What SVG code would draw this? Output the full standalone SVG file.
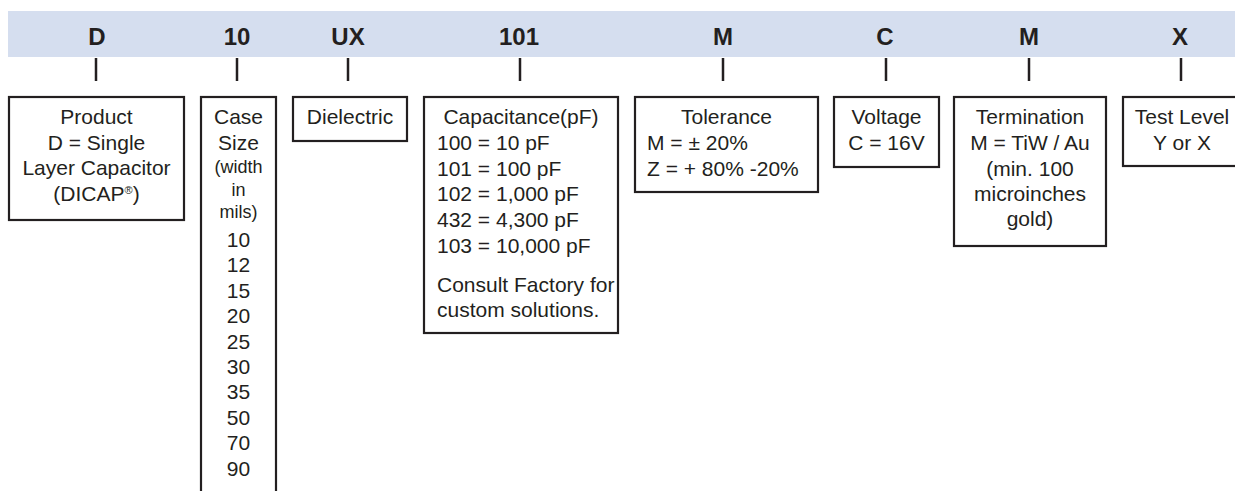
<svg xmlns="http://www.w3.org/2000/svg" width="1235" height="491" viewBox="0 0 1235 491">
<style>
text{font-family:"Liberation Sans",Arial,sans-serif;fill:#231f20}
.h{font-size:24px;font-weight:bold;text-anchor:middle}
.t{font-size:21px}
.c{text-anchor:middle}
.s{font-size:18px}
.box{fill:#fff;stroke:#231f20;stroke-width:2.2}
.tick{stroke:#231f20;stroke-width:2.5}
</style>
<rect x="8" y="11" width="1227" height="46" fill="#d5deef"/>
<g id="header">
<text class="h" x="97" y="45">D</text>
<text class="h" x="237" y="45">10</text>
<text class="h" x="348" y="45">UX</text>
<text class="h" x="519" y="45">101</text>
<text class="h" x="723" y="45">M</text>
<text class="h" x="885" y="45">C</text>
<text class="h" x="1029" y="45">M</text>
<text class="h" x="1180" y="45">X</text>
</g>
<g id="connectors">
<line class="tick" x1="96" y1="58" x2="96" y2="81"/>
<line class="tick" x1="237" y1="58" x2="237" y2="81"/>
<line class="tick" x1="348" y1="58" x2="348" y2="81"/>
<line class="tick" x1="520" y1="58" x2="520" y2="81"/>
<line class="tick" x1="723" y1="58" x2="723" y2="81"/>
<line class="tick" x1="886" y1="58" x2="886" y2="81"/>
<line class="tick" x1="1029" y1="58" x2="1029" y2="81"/>
<line class="tick" x1="1181" y1="58" x2="1181" y2="81"/>
</g>
<g id="product">
<rect class="box" x="9" y="97" width="175" height="123"/>
<text class="t c" x="96.5" y="124">Product</text>
<text class="t c" x="96.5" y="149.5">D = Single</text>
<text class="t c" x="96.5" y="175">Layer Capacitor</text>
<text class="t c" x="96.5" y="200.5">(DICAP<tspan font-size="11" dy="-7">®</tspan><tspan dy="7">)</tspan></text>
</g>
<g id="casesize">
<rect class="box" x="201" y="97" width="75" height="400"/>
<text class="t c" x="238.5" y="124">Case</text>
<text class="t c" x="238.5" y="150">Size</text>
<text class="s c" x="238.5" y="173">(width</text>
<text class="s c" x="238.5" y="196">in</text>
<text class="s c" x="238.5" y="218">mils)</text>
<text class="t c" x="238.5" y="247">10</text>
<text class="t c" x="238.5" y="272.4">12</text>
<text class="t c" x="238.5" y="297.8">15</text>
<text class="t c" x="238.5" y="323.2">20</text>
<text class="t c" x="238.5" y="348.6">25</text>
<text class="t c" x="238.5" y="374">30</text>
<text class="t c" x="238.5" y="399.4">35</text>
<text class="t c" x="238.5" y="424.8">50</text>
<text class="t c" x="238.5" y="450.2">70</text>
<text class="t c" x="238.5" y="475.6">90</text>
</g>
<g id="dielectric">
<rect class="box" x="293" y="97" width="114" height="44"/>
<text class="t c" x="350" y="124">Dielectric</text>
</g>
<g id="capacitance">
<rect class="box" x="424" y="97" width="194" height="236"/>
<text class="t c" x="521" y="124">Capacitance(pF)</text>
<text class="t" x="437" y="150">100 = 10 pF</text>
<text class="t" x="437" y="176">101 = 100 pF</text>
<text class="t" x="437" y="201">102 = 1,000 pF</text>
<text class="t" x="437" y="227">432 = 4,300 pF</text>
<text class="t" x="437" y="253">103 = 10,000 pF</text>
<text class="t" x="437" y="292">Consult Factory for</text>
<text class="t" x="437" y="317">custom solutions.</text>
</g>
<g id="tolerance">
<rect class="box" x="635" y="97" width="183" height="95"/>
<text class="t c" x="726.5" y="124">Tolerance</text>
<text class="t" x="647" y="150">M = ± 20%</text>
<text class="t" x="647" y="176">Z = + 80% -20%</text>
</g>
<g id="voltage">
<rect class="box" x="834" y="97" width="105" height="70"/>
<text class="t c" x="886.5" y="124">Voltage</text>
<text class="t c" x="886.5" y="150">C = 16V</text>
</g>
<g id="termination">
<rect class="box" x="954" y="97" width="152" height="149"/>
<text class="t c" x="1030" y="124">Termination</text>
<text class="t c" x="1030" y="150">M = TiW / Au</text>
<text class="t c" x="1030" y="175.5">(min. 100</text>
<text class="t c" x="1030" y="200.5">microinches</text>
<text class="t c" x="1030" y="225.5">gold)</text>
</g>
<g id="testlevel">
<rect class="box" x="1123" y="97" width="130" height="69"/>
<text class="t c" x="1182" y="124">Test Level</text>
<text class="t c" x="1182" y="150">Y or X</text>
</g>
</svg>
